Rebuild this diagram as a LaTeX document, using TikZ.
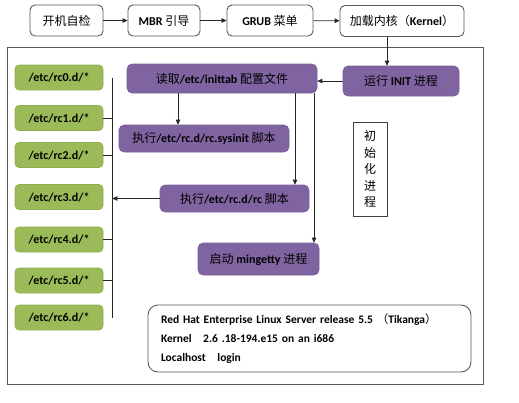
\documentclass[tikz,border=0pt]{standalone}
\usepackage{fontspec}
\setmainfont{Carlito}
\newfontfamily\cjk{Noto Sans CJK SC}
\usetikzlibrary{arrows.meta}
\newcommand\zh[1]{{\cjk\mdseries #1}}
\definecolor{purp}{HTML}{8064A2}
\definecolor{purpd}{HTML}{7A5F9C}
\definecolor{grn}{HTML}{9BBB59}
\definecolor{grnd}{HTML}{8DAE4C}
\begin{document}
\begin{tikzpicture}[x=1pt,y=-1pt,
  font=\fontsize{12}{14}\selectfont\bfseries,
  topbox/.style={draw=black!65, line width=0.9pt, rounded corners=5pt, fill=white,
    minimum height=31pt, inner sep=2pt},
  pbox/.style={fill=purp, draw=purpd, line width=0.6pt, rounded corners=5pt,
    inner sep=2pt},
  gbox/.style={fill=grn, draw=grnd, line width=0.6pt, rounded corners=4pt,
    minimum width=88pt, minimum height=25pt, inner sep=2pt},
  arr/.style={-{Triangle[length=5pt,width=4.5pt]}, line width=0.7pt, draw=black!85},
  ln/.style={line width=0.7pt, draw=black!85}]
\useasboundingbox (0,0) rectangle (519,402);

% top row
\node[topbox, minimum width=73pt] (a) at (66.5,20.5) {\zh{开机自检}};
\node[topbox, minimum width=72pt] (b) at (164,20.5) {MBR \zh{引导}};
\node[topbox, minimum width=86pt] (c) at (270,20.5) {GRUB \zh{菜单}};
\node[topbox, minimum width=124pt] (d) at (402,21) {\zh{加载内核（}Kernel\zh{）}};
\draw[arr] (a) -- (b);
\draw[arr] (b) -- (c);
\draw[arr] (c) -- (d);

% frame
\draw[draw=black!65, line width=1pt] (7,47) rectangle (483,384);

% purple boxes
\node[pbox, minimum width=116pt, minimum height=30pt] (init) at (401,81) {\zh{运行} INIT \zh{进程}};
\node[pbox, minimum width=190pt, minimum height=29pt] (read) at (222,78.5) {\zh{读取}/etc/inittab \zh{配置文件}};
\node[pbox, minimum width=170pt, minimum height=27pt] (sys) at (204,138.5) {\zh{执行}/etc/rc.d/rc.sysinit \zh{脚本}};
\node[pbox, minimum width=149pt, minimum height=27pt] (rc) at (234.5,198.5) {\zh{执行}/etc/rc.d/rc \zh{脚本}};
\node[pbox, minimum width=121pt, minimum height=32pt] (ming) at (258.5,259) {\zh{启动} mingetty \zh{进程}};

% init text box
\node[draw=black!75, line width=0.7pt, minimum width=34pt, minimum height=94pt,
  align=center, inner sep=2pt, font=\fontsize{12}{16.5}\selectfont] (ib) at (370,169)
  {\zh{初}\\\zh{始}\\\zh{化}\\\zh{进}\\\zh{程}};

% green boxes
\node[gbox] (r0) at (59,77.5) {/etc/rc0.d/*};
\node[gbox] (r1) at (59,118) {/etc/rc1.d/*};
\node[gbox] (r2) at (59,155) {/etc/rc2.d/*};
\node[gbox] (r3) at (59,197) {/etc/rc3.d/*};
\node[gbox] (r4) at (59,239.5) {/etc/rc4.d/*};
\node[gbox] (r5) at (59,280.5) {/etc/rc5.d/*};
\node[gbox] (r6) at (59,317.5) {/etc/rc6.d/*};

% bus
\coordinate (bt) at ([xshift=9pt]r0.east);
\coordinate (bb) at ([xshift=9pt]r6.east);
\draw[ln] (bt) -- (bb);
\foreach \n in {r1,r2,r4,r5} \draw[ln] (\n.east) -- (\n.east -| bt);

% connectors
\coordinate (kd) at ([xshift=-15pt]d.south);
\draw[arr] (kd) -- (kd |- init.north);
\draw[arr] (init.west) -- (read.east |- init.west);
\coordinate (p1) at ([xshift=-44pt]read.south);
\draw[arr] (p1) -- (p1 |- sys.north);
\coordinate (p2) at ([xshift=73pt]read.south);
\draw[arr] (p2) -- (p2 |- rc.north);
\coordinate (p3) at ([xshift=92pt]read.south);
\draw[arr] (p3) -- (p3 |- ming.north);
\draw[arr] (rc.west) -- (rc.west -| bt);

% login box
\node[draw=black!65, line width=0.9pt, rounded corners=10pt, minimum width=323pt,
  minimum height=67pt, text width=297pt, align=left, inner xsep=13pt,
  font=\fontsize{11.5}{19}\selectfont\bfseries] (login) at (309.5,338.5)
  {Red Hat Enterprise Linux Server release 5.5 \zh{（}Tikanga\zh{）}\\
   Kernel\ \ \ 2.6 .18-194.e15 on an i686\\
   Localhost\ \ \ login};
\end{tikzpicture}
\end{document}
